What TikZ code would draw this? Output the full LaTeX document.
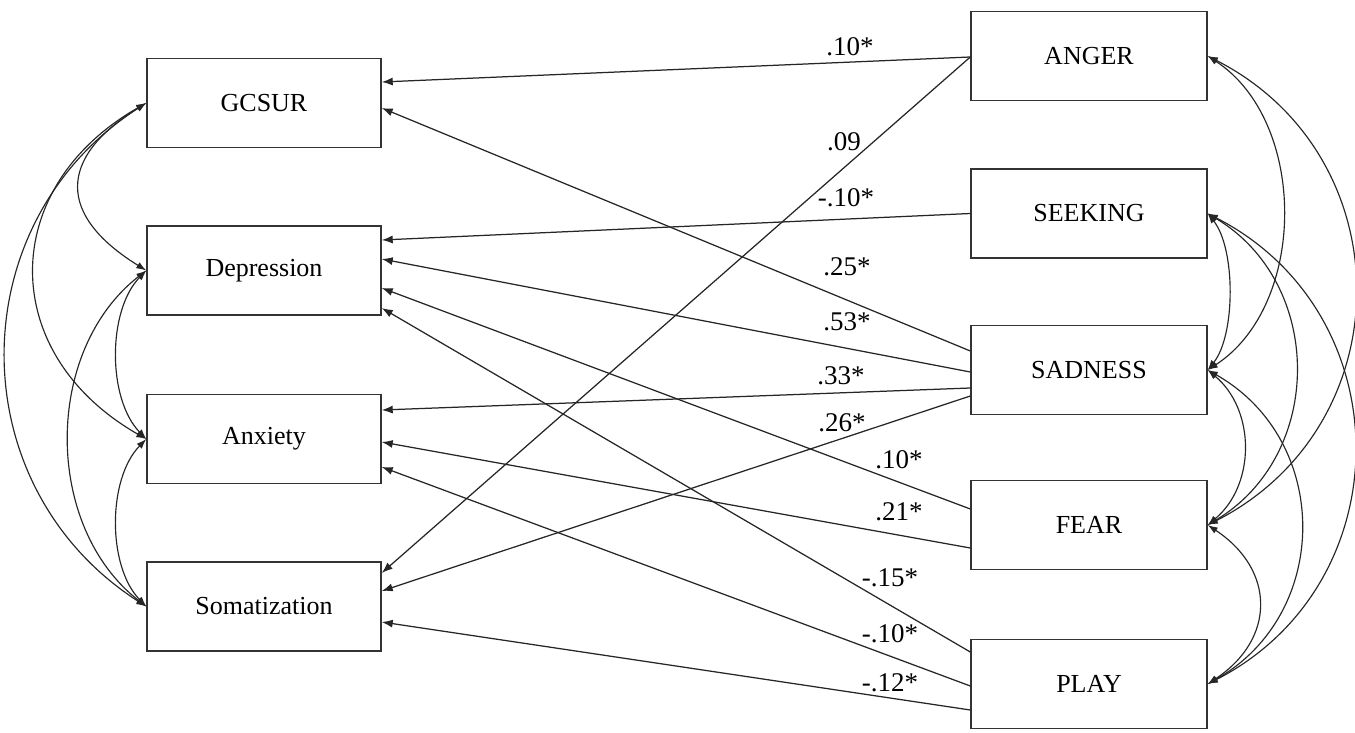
\documentclass[tikz,border=0pt]{standalone}
\usepackage{fontspec}
\setmainfont{Liberation Serif}
\usetikzlibrary{arrows.meta}
\begin{document}
\begin{tikzpicture}[x=1pt,y=-1pt,
  box/.style={draw=black!80, line width=1.4pt, minimum width=234pt, minimum height=89pt, inner sep=0pt, font=\fontsize{26}{30}\selectfont},
  conn/.style={draw=black!85, line width=1.25pt, -{Latex[length=11pt,width=8pt]}},
  cov/.style={draw=black!85, line width=1.15pt, {Latex[length=10pt,width=7pt]}-{Latex[length=10pt,width=7pt]}},
  lab/.style={font=\fontsize{27}{30}\selectfont, inner sep=0pt}
]
\useasboundingbox (0,0) rectangle (1355,733);
% left boxes
\node[box] (gcsur) at (264,103) {GCSUR};
\node[box] (dep) at (264,270.5) {Depression};
\node[box] (anx) at (264,439) {Anxiety};
\node[box] (som) at (264,606.5) {Somatization};
% right boxes
\node[box, minimum width=236pt] (anger) at (1089,56) {ANGER};
\node[box, minimum width=236pt] (seek) at (1089,213.5) {SEEKING};
\node[box, minimum width=236pt] (sad) at (1089,370) {SADNESS};
\node[box, minimum width=236pt] (fear) at (1089,525) {FEAR};
\node[box, minimum width=236pt] (play) at (1089,684) {PLAY};

% regression paths
\draw[conn] ([yshift=-1pt]anger.west) -- ([yshift=21pt]gcsur.east);
\draw[conn] ([yshift=-1pt]anger.west) -- ([yshift=33.5pt]som.east);
\draw[conn] (seek.west) -- ([yshift=30.5pt]dep.east);
\draw[conn] ([yshift=19pt]sad.west) -- ([yshift=-5pt]gcsur.east);
\draw[conn] ([yshift=-2pt]sad.west) -- ([yshift=11.5pt]dep.east);
\draw[conn] ([yshift=-18pt]sad.west) -- ([yshift=29pt]anx.east);
\draw[conn] ([yshift=-26pt]sad.west) -- ([yshift=15.5pt]som.east);
\draw[conn] ([yshift=16pt]fear.west) -- ([yshift=-17.5pt]dep.east);
\draw[conn] ([yshift=-23pt]fear.west) -- ([yshift=-3pt]anx.east);
\draw[conn] ([yshift=32pt]play.west) -- ([yshift=-37.5pt]dep.east);
\draw[conn] ([yshift=-2pt]play.west) -- ([yshift=-28pt]anx.east);
\draw[conn] ([yshift=-26pt]play.west) -- ([yshift=-15.5pt]som.east);

% labels
\node[lab] (l1) at (850,47) {.10*};
\node[lab] (l2) at (844,142) {.09};
\node[lab] (l3) at (846,198) {-.10*};
\node[lab] (l4) at (847,267) {.25*};
\node[lab] (l5) at (847,322) {.53*};
\node[lab] (l6) at (841,376) {.33*};
\node[lab] (l7) at (842,423) {.26*};
\node[lab] (l8) at (899,460) {.10*};
\node[lab] (l9) at (899,512) {.21*};
\node[lab] (l10) at (890,578) {-.15*};
\node[lab] (l11) at (890,634) {-.10*};
\node[lab] (l12) at (890,683) {-.12*};

% left covariances
\draw[cov] (gcsur.west) .. controls +(-89,55) and +(-89,-55) .. (dep.west);
\draw[cov] (gcsur.west) .. controls +(-149,85) and +(-149,-85) .. (anx.west);
\draw[cov] (gcsur.west) .. controls +(-187,120) and +(-187,-120) .. (som.west);
\draw[cov] (dep.west) .. controls +(-39,40) and +(-39,-40) .. (anx.west);
\draw[cov] (dep.west) .. controls +(-103,80) and +(-103,-80) .. (som.west);
\draw[cov] (anx.west) .. controls +(-39,40) and +(-39,-40) .. (som.west);

% right covariances
\draw[cov] (anger.east) .. controls +(100,65) and +(100,-65) .. (sad.east);
\draw[cov] (anger.east) .. controls +(196,100) and +(196,-100) .. (fear.east);
\draw[cov] (seek.east) .. controls +(28,35) and +(28,-35) .. (sad.east);
\draw[cov] (seek.east) .. controls +(117,70) and +(117,-70) .. (fear.east);
\draw[cov] (seek.east) .. controls +(195,100) and +(195,-100) .. (play.east);
\draw[cov] (sad.east) .. controls +(48,40) and +(48,-40) .. (fear.east);
\draw[cov] (sad.east) .. controls +(124,70) and +(124,-70) .. (play.east);
\draw[cov] (fear.east) .. controls +(68,45) and +(68,-45) .. (play.east);
\end{tikzpicture}
\end{document}
